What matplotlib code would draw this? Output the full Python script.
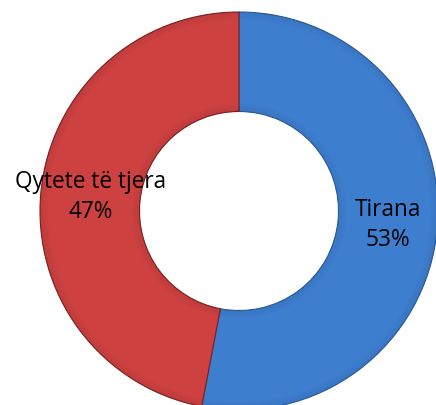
import numpy as np
import matplotlib.pyplot as plt
from matplotlib.patches import Wedge

labels = ["Tirana", "Qytete të tjera"]
values = [53, 47]
colors = ["#3e7ecf", "#cd4141"]
edge_colors = ["#2a5a98", "#7a2020"]

W, H = 436, 405
fig = plt.figure(figsize=(W / 100, H / 100), dpi=100)
ax = fig.add_axes([0, 0, 1, 1])

cx, cy = 239, H - 211
r_out = 199
ring = 0.5
r_in = r_out * (1 - ring)

wedges, _ = ax.pie(
    values,
    colors=colors,
    startangle=90,
    counterclock=False,
    radius=r_out,
    center=(cx, cy),
    wedgeprops=dict(width=r_out * ring, linewidth=0.8),
    frame=True,
)
for w, ec in zip(wedges, edge_colors):
    w.set_edgecolor(ec)

# bevel-like shading along the outer and inner rims
for k in range(8):
    a = 0.05 * (8 - k) / 8
    ax.add_patch(Wedge((cx, cy), r_out - k, 0, 360, width=1.2,
                       facecolor="black", edgecolor="none", alpha=a, zorder=2))
    ax.add_patch(Wedge((cx, cy), r_in + k + 1.2, 0, 360, width=1.2,
                       facecolor="black", edgecolor="none", alpha=a, zorder=2))

total = sum(values)
for w, lab, v in zip(wedges, labels, values):
    ang = np.deg2rad((w.theta1 + w.theta2) / 2)
    rm = r_out - r_out * ring / 2
    x = cx + rm * np.cos(ang)
    y = cy + rm * np.sin(ang)
    ax.text(x, y, f"{lab}\n{round(100 * v / total)}%", ha="center", va="center",
            fontsize=16.3, family="Open Sans", linespacing=1.3, color="black",
            zorder=5)

ax.set_xlim(0, W)
ax.set_ylim(0, H)
ax.set_aspect("equal")
ax.axis("off")
fig.savefig("out.png", dpi=100)
